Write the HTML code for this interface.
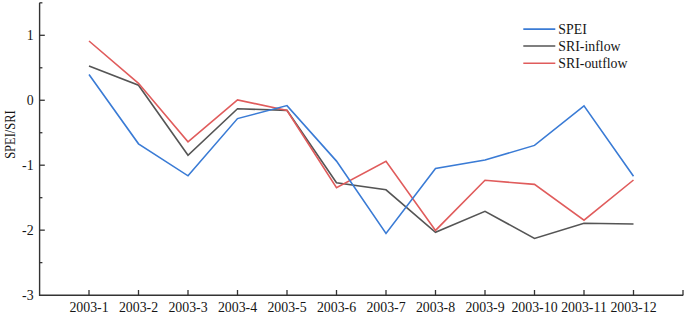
<!DOCTYPE html>
<html><head><meta charset="utf-8"><style>
html,body{margin:0;padding:0;background:#fff;}
body{width:685px;height:316px;overflow:hidden;}
svg{display:block;}
text{font-family:"Liberation Serif",serif;font-size:13.85px;fill:#151515;}
</style></head><body>
<svg width="685" height="316" viewBox="0 0 685 316">
<path d="M39.6,2.82 V295.2 H683.2" fill="none" stroke="#333333" stroke-width="1.4"/>
<path d="M39.6,35.30 H44.800000000000004" stroke="#333333" stroke-width="1.3"/>
<path d="M39.6,100.25 H44.800000000000004" stroke="#333333" stroke-width="1.3"/>
<path d="M39.6,165.20 H44.800000000000004" stroke="#333333" stroke-width="1.3"/>
<path d="M39.6,230.15 H44.800000000000004" stroke="#333333" stroke-width="1.3"/>
<path d="M39.6,2.82 H42.4" stroke="#333333" stroke-width="1.3"/>
<path d="M39.6,67.78 H42.4" stroke="#333333" stroke-width="1.3"/>
<path d="M39.6,132.72 H42.4" stroke="#333333" stroke-width="1.3"/>
<path d="M39.6,197.68 H42.4" stroke="#333333" stroke-width="1.3"/>
<path d="M39.6,262.62 H42.4" stroke="#333333" stroke-width="1.3"/>
<path d="M89.00,295.2 V290.0" stroke="#333333" stroke-width="1.3"/>
<path d="M138.50,295.2 V290.0" stroke="#333333" stroke-width="1.3"/>
<path d="M188.00,295.2 V290.0" stroke="#333333" stroke-width="1.3"/>
<path d="M237.50,295.2 V290.0" stroke="#333333" stroke-width="1.3"/>
<path d="M287.00,295.2 V290.0" stroke="#333333" stroke-width="1.3"/>
<path d="M336.50,295.2 V290.0" stroke="#333333" stroke-width="1.3"/>
<path d="M386.00,295.2 V290.0" stroke="#333333" stroke-width="1.3"/>
<path d="M435.50,295.2 V290.0" stroke="#333333" stroke-width="1.3"/>
<path d="M485.00,295.2 V290.0" stroke="#333333" stroke-width="1.3"/>
<path d="M534.50,295.2 V290.0" stroke="#333333" stroke-width="1.3"/>
<path d="M584.00,295.2 V290.0" stroke="#333333" stroke-width="1.3"/>
<path d="M633.50,295.2 V290.0" stroke="#333333" stroke-width="1.3"/>
<path d="M683.00,295.2 V290.0" stroke="#333333" stroke-width="1.3"/>
<text x="33.6" y="39.90" text-anchor="end">1</text>
<text x="33.6" y="104.85" text-anchor="end">0</text>
<text x="33.6" y="169.80" text-anchor="end">-1</text>
<text x="33.6" y="234.75" text-anchor="end">-2</text>
<text x="33.6" y="299.70" text-anchor="end">-3</text>
<text x="89.00" y="311.9" text-anchor="middle">2003-1</text>
<text x="138.50" y="311.9" text-anchor="middle">2003-2</text>
<text x="188.00" y="311.9" text-anchor="middle">2003-3</text>
<text x="237.50" y="311.9" text-anchor="middle">2003-4</text>
<text x="287.00" y="311.9" text-anchor="middle">2003-5</text>
<text x="336.50" y="311.9" text-anchor="middle">2003-6</text>
<text x="386.00" y="311.9" text-anchor="middle">2003-7</text>
<text x="435.50" y="311.9" text-anchor="middle">2003-8</text>
<text x="485.00" y="311.9" text-anchor="middle">2003-9</text>
<text x="534.50" y="311.9" text-anchor="middle">2003-10</text>
<text x="584.00" y="311.9" text-anchor="middle">2003-11</text>
<text x="633.50" y="311.9" text-anchor="middle">2003-12</text>
<text transform="translate(14.6,134.6) rotate(-90) scale(0.9,1)" text-anchor="middle" font-size="12.2">SPEI/SRI</text>
<polyline points="89.0,65.90 138.5,85.20 188.0,155.30 237.5,108.70 287.0,110.40 336.5,182.80 386.0,189.80 435.5,232.30 485.0,211.30 534.5,238.40 584.0,223.20 633.5,224.00" fill="none" stroke="#555555" stroke-width="1.6" stroke-linejoin="miter"/>
<polyline points="89.0,41.00 138.5,83.30 188.0,141.80 237.5,99.90 287.0,110.50 336.5,187.60 386.0,161.40 435.5,230.40 485.0,180.30 534.5,184.40 584.0,220.20 633.5,180.00" fill="none" stroke="#e05c5c" stroke-width="1.6" stroke-linejoin="miter"/>
<polyline points="89.0,74.50 138.5,143.80 188.0,175.80 237.5,118.60 287.0,105.60 336.5,161.10 386.0,233.40 435.5,168.50 485.0,160.00 534.5,145.40 584.0,105.80 633.5,176.30" fill="none" stroke="#3a7bd5" stroke-width="1.6" stroke-linejoin="miter"/>
<path d="M523.3,29.1 H555.3" stroke="#3a7bd5" stroke-width="1.6"/>
<text x="558.3" y="33.70" font-size="13.4">SPEI</text>
<path d="M523.3,46.0 H555.3" stroke="#555555" stroke-width="1.6"/>
<text x="558.3" y="50.60" font-size="13.4">SRI-inflow</text>
<path d="M523.3,63.3 H555.3" stroke="#e05c5c" stroke-width="1.6"/>
<text x="558.3" y="67.90" font-size="13.4">SRI-outflow</text>
</svg>
</body></html>
